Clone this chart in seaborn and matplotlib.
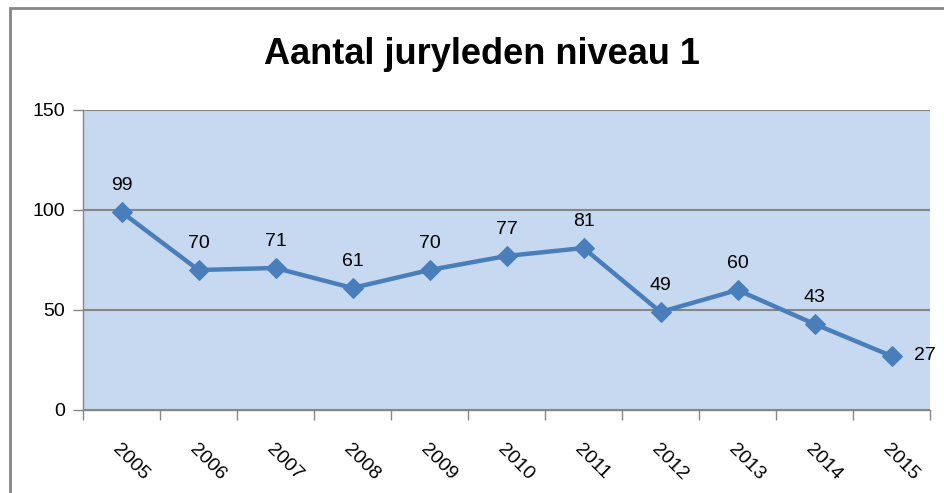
import matplotlib
matplotlib.use("Agg")
import matplotlib.pyplot as plt
import seaborn as sns
import pandas as pd
import numpy as np
from matplotlib.patches import Rectangle

years = ["2005", "2006", "2007", "2008", "2009", "2010", "2011", "2012", "2013", "2014", "2015"]
counts = [99, 70, 71, 61, 70, 77, 81, 49, 60, 43, 27]
title = "Aantal juryleden niveau 1"
yticks = [0, 50, 100, 150]

sns.set_theme(style="white")
plt.rcParams['font.family'] = ['Liberation Sans', 'DejaVu Sans']
plt.rcParams['text.color'] = "black"
plt.rcParams['xtick.color'] = "black"
plt.rcParams['ytick.color'] = "black"

df = pd.DataFrame({"pos": np.arange(len(years)), "jaar": years, "aantal": counts})

fig = plt.figure(figsize=(9.44, 4.93), dpi=100)
ax = fig.add_axes([83/944, 1-410/493, (930-83)/944, 300/493])
ax.set_facecolor("#C6D9F1")

line_color = "#4A7EBB"
sns.lineplot(data=df, x="pos", y="aantal", ax=ax, color=line_color, linewidth=3.2,
             marker="D", markersize=10, markeredgecolor=line_color, markerfacecolor=line_color)

ax.set_xlim(-0.5, len(years) - 0.5)
ax.set_ylim(0, 150)
ax.set_yticks(yticks)
ax.set_yticklabels([str(v) for v in yticks], fontsize=14, color="black")
ax.yaxis.grid(True, color="#868686", linewidth=1.5)
ax.set_axisbelow(True)

ax.set_xticks(df["pos"])
ax.set_xticklabels(years, rotation=-45, ha="left", va="top", rotation_mode="anchor",
                   fontsize=14, color="black")
ax.set_xticks(np.arange(-0.5, len(years), 1.0), minor=True)
ax.tick_params(axis="x", which="major", length=0, pad=22, labelcolor="black")
ax.tick_params(axis="x", which="minor", length=7, width=1, color="#868686", bottom=True)
ax.tick_params(axis="y", which="major", length=7, width=1, color="#868686", left=True,
               pad=6, labelcolor="black")
ax.set_xlabel("")
ax.set_ylabel("")

for s in ["top", "right"]:
    ax.spines[s].set_visible(False)
ax.spines["left"].set_color("#868686")
ax.spines["left"].set_linewidth(1)
ax.spines["bottom"].set_color("#868686")
ax.spines["bottom"].set_linewidth(1)

for i, v in enumerate(counts):
    if i == len(counts) - 1:
        ax.annotate(str(v), (i, v), xytext=(16, 0), textcoords="offset points",
                    ha="left", va="center", fontsize=14, color="black")
    else:
        ax.annotate(str(v), (i, v), xytext=(0, 16), textcoords="offset points",
                    ha="center", va="baseline", fontsize=14, color="black")

fig.text(482/944, 1-55/493, title, ha="center", va="center", fontsize=26,
         fontweight="bold", color="black")

fig.patches.append(Rectangle((10/944, -0.1), 1.2, 1-8/493+0.1, transform=fig.transFigure,
                             fill=False, edgecolor="#868686", linewidth=2))

fig.savefig("out.png", dpi=100)
